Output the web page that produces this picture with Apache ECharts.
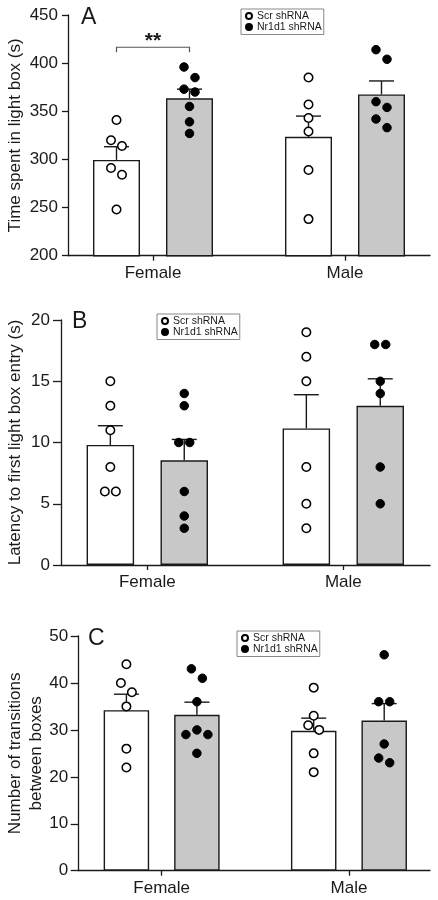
<!DOCTYPE html>
<html>
<head>
<meta charset="utf-8">
<script src="https://cdn.jsdelivr.net/npm/echarts@6/dist/echarts.min.js"></script>
<style>
html,body{margin:0;padding:0;background:#fff;}
#chart{width:438px;height:900px;}
</style>
</head>
<body>
<div id="chart"></div>
<script>
// ---------- DATA ----------
const categories = ['Female', 'Male'];
const groupNames = ['Scr shRNA', 'Nr1d1 shRNA'];

// Panel A: Time spent in light box (s)
const aYTicks = [200, 250, 300, 350, 400, 450];
const aScrMean = [299.5, 323.5];
const aScrSemTop = [313.2, 345.0];
const aNrMean = [363.5, 367.5];
const aNrSemTop = [373.0, 381.5];
const aScrFemale = [341, 320, 314, 291, 284, 248];
const aScrMale = [385, 357, 343, 329, 289, 238];
const aNrFemale = [396, 385, 373, 370, 355, 339, 327];
const aNrMale = [414, 404, 360, 354, 342, 333];
const aSigLevel = 416.5;
const aSigText = '**';

// Panel B: Latency to first light box entry (s)
const bYTicks = [0, 5, 10, 15, 20];
const bScrMean = [9.8, 11.15];
const bScrSemTop = [11.37, 13.9];
const bNrMean = [8.55, 13.0];
const bNrSemTop = [10.25, 15.2];
const bScrFemale = [15, 13, 11, 8, 6, 6];
const bScrMale = [19, 17, 15, 8, 5, 3];
const bNrFemale = [14, 13, 10, 10, 6, 4, 3];
const bNrMale = [18, 18, 15, 14, 8, 5];

// Panel C: Number of transitions between boxes
const cYTicks = [0, 10, 20, 30, 40, 50];
const cScrMean = [34.2, 29.8];
const cScrSemTop = [37.6, 32.5];
const cNrMean = [33.2, 32.0];
const cNrSemTop = [35.9, 35.6];
const cScrFemale = [44, 40, 38, 35, 26, 22];
const cScrMale = [39, 33, 31, 30, 25, 21];
const cNrFemale = [43, 41, 36, 30, 29, 29, 25];
const cNrMale = [46, 36, 36, 27, 24, 23];

// ---------- LAYOUT / STYLE ----------
const FONT = '"Liberation Sans", Arial, sans-serif';
const INK = '#1a1a1a';
const GREY = '#c8c8c8';

const panels = [
  {
    letter: 'A', yName: 'Time spent in light box (s)', ticks: aYTicks,
    scrMean: aScrMean, scrTop: aScrSemTop, nrMean: aNrMean, nrTop: aNrSemTop,
    scrPts: [aScrFemale, aScrMale], nrPts: [aNrFemale, aNrMale],
    axisLeft: 68, top: 15, height: 240.7, dataLeft: 57, dataWidth: 384,
    barW: 47, gap: 26, nameGap: 42, tickLen: 6, labelMargin: 10,
    letterPos: [81, 6], legendPos: [241, 9],
    sig: {level: aSigLevel, text: aSigText}
  },
  {
    letter: 'B', yName: 'Latency to first light box entry (s)', ticks: bYTicks,
    scrMean: bScrMean, scrTop: bScrSemTop, nrMean: bNrMean, nrTop: bNrSemTop,
    scrPts: [bScrFemale, bScrMale], nrPts: [bNrFemale, bNrMale],
    axisLeft: 61, top: 320, height: 245, dataLeft: 49.3, dataWidth: 392,
    barW: 47.5, gap: 26.4, nameGap: 35, tickLen: 8, labelMargin: 11,
    letterPos: [72, 310], legendPos: [157, 314]
  },
  {
    letter: 'C', yName: 'Number of transitions\nbetween boxes', ticks: cYTicks,
    scrMean: cScrMean, scrTop: cScrSemTop, nrMean: cNrMean, nrTop: cNrSemTop,
    scrPts: [cScrFemale, cScrMale], nrPts: [cNrFemale, cNrMale],
    axisLeft: 78.7, top: 636, height: 234.7, dataLeft: 68, dataWidth: 374.6,
    barW: 45.5, gap: 25, nameGap: 32, tickLen: 8, labelMargin: 10.5,
    letterPos: [88, 627], legendPos: [237, 631]
  }
];

// beeswarm-like horizontal spreading of close points (pixel offsets)
function spread(values, pxPerUnit) {
  const idx = values.map((v, i) => i).sort((a, b) => values[b] - values[a]);
  const off = new Array(values.length).fill(0);
  const thr = 11.2, d = 10, s = 5.5;
  let clusters = [], cur = [idx[0]];
  for (let k = 1; k < idx.length; k++) {
    const gapPx = (values[idx[k - 1]] - values[idx[k]]) * pxPerUnit;
    if (gapPx < thr) cur.push(idx[k]); else { clusters.push(cur); cur = [idx[k]]; }
  }
  clusters.push(cur);
  clusters.forEach(cl => {
    if (cl.length === 2) { off[cl[0]] = -s; off[cl[1]] = s; return; }
    if (cl.length === 1) return;
    const placed = [];
    cl.forEach(i => {
      const y = values[i] * pxPerUnit;
      const cands = [0, -s, s, -2 * s, 2 * s, -3 * s, 3 * s];
      for (const c of cands) {
        const ok = placed.every(p => Math.hypot(p.x - c, p.y - y) >= d);
        if (ok) { off[i] = c; placed.push({x: c, y: y}); break; }
      }
    });
  });
  return off;
}

const option = {
  animation: false,
  backgroundColor: '#fff',
  textStyle: {fontFamily: FONT, color: INK},
  title: [], legend: [], grid: [], xAxis: [], yAxis: [], series: []
};

panels.forEach((p, pi) => {
  const ymin = p.ticks[0], ymax = p.ticks[p.ticks.length - 1];
  const interval = p.ticks[1] - p.ticks[0];
  const pxPerUnit = p.height / (ymax - ymin);
  const half = (p.barW + p.gap) / 2;
  const gAxis = pi * 2, gData = pi * 2 + 1;

  option.grid.push({left: p.axisLeft, right: 8, top: p.top, height: p.height,
    containLabel: false, outerBoundsMode: 'none'});
  option.grid.push({left: p.dataLeft, width: p.dataWidth, top: p.top, height: p.height,
    containLabel: false, outerBoundsMode: 'none'});

  // visible axes grid
  option.xAxis.push({
    gridIndex: gAxis, type: 'value', min: 0, max: 1,
    axisLine: {show: true, lineStyle: {color: INK, width: 1.3}},
    axisTick: {show: false}, axisLabel: {show: false}, splitLine: {show: false}
  });
  option.yAxis.push({
    gridIndex: gAxis, type: 'value', min: ymin, max: ymax, interval: interval,
    name: p.yName, nameLocation: 'middle', nameGap: p.nameGap, nameMoveOverlap: false,
    nameTextStyle: {fontSize: 17, color: INK, fontFamily: FONT, lineHeight: 21, align: 'center'},
    axisLine: {show: true, lineStyle: {color: INK, width: 1.3}},
    axisTick: {show: true, length: p.tickLen, lineStyle: {color: INK, width: 1.3}},
    axisLabel: {fontSize: 17, color: INK, fontFamily: FONT, margin: p.labelMargin},
    splitLine: {show: false}
  });
  // data grid axes
  option.xAxis.push({
    gridIndex: gData, type: 'category', data: categories,
    axisLine: {show: false},
    axisTick: {show: true, alignWithLabel: true, length: 5, lineStyle: {color: INK, width: 1.3}},
    axisLabel: {fontSize: 17, color: INK, fontFamily: FONT, margin: 9},
    splitLine: {show: false}
  });
  option.yAxis.push({
    gridIndex: gData, type: 'value', min: ymin, max: ymax, interval: interval, show: false,
    splitLine: {show: false}
  });
  const xi = pi * 2 + 1, yi = pi * 2 + 1;

  // bars
  option.series.push({
    type: 'bar', name: groupNames[0] + ' mean', xAxisIndex: xi, yAxisIndex: yi,
    data: p.scrMean, barWidth: p.barW, barGap: (p.gap / p.barW * 100) + '%',
    itemStyle: {color: '#fff', borderColor: INK, borderWidth: 1.4}, z: 2, silent: true
  });
  option.series.push({
    type: 'bar', name: groupNames[1] + ' mean', xAxisIndex: xi, yAxisIndex: yi,
    data: p.nrMean, barWidth: p.barW,
    itemStyle: {color: GREY, borderColor: INK, borderWidth: 1.4}, z: 2, silent: true
  });

  // error bars (SEM, upward)
  function errSeries(means, tops, offset) {
    return {
      type: 'custom', xAxisIndex: xi, yAxisIndex: yi, z: 3, silent: true,
      data: means.map((m, i) => [i, m, tops[i]]),
      encode: {x: 0, y: [1, 2]},
      renderItem: function (params, api) {
        const p1 = api.coord([api.value(0), api.value(1)]);
        const p2 = api.coord([api.value(0), api.value(2)]);
        const x = p1[0] + offset, cap = 25;
        return {
          type: 'group', children: [
            {type: 'line', shape: {x1: x, y1: p1[1], x2: x, y2: p2[1]}, style: {stroke: INK, lineWidth: 1.4}},
            {type: 'line', shape: {x1: x - cap / 2, y1: p2[1], x2: x + cap / 2, y2: p2[1]}, style: {stroke: INK, lineWidth: 1.4}}
          ]
        };
      }
    };
  }
  option.series.push(errSeries(p.scrMean, p.scrTop, -half));
  option.series.push(errSeries(p.nrMean, p.nrTop, half));

  // individual points
  function ptsData(groups, base) {
    const out = [];
    groups.forEach((vals, ci) => {
      const off = spread(vals, pxPerUnit);
      vals.forEach((v, k) => out.push({value: [ci, v], symbolOffset: [base + off[k], 0]}));
    });
    return out;
  }
  option.series.push({
    type: 'scatter', name: groupNames[0], xAxisIndex: xi, yAxisIndex: yi, z: 4,
    symbol: 'circle', symbolSize: 8.5,
    itemStyle: {color: '#fff', borderColor: '#000', borderWidth: 1.5, opacity: 1},
    data: ptsData(p.scrPts, -half)
  });
  option.series.push({
    type: 'scatter', name: groupNames[1], xAxisIndex: xi, yAxisIndex: yi, z: 4,
    symbol: 'circle', symbolSize: 8.5,
    itemStyle: {color: '#000', borderColor: '#000', borderWidth: 1, opacity: 1},
    data: ptsData(p.nrPts, half)
  });

  // significance bracket
  if (p.sig) {
    option.series.push({
      type: 'custom', xAxisIndex: xi, yAxisIndex: yi, z: 5, silent: true,
      data: [[0, p.sig.level]],
      encode: {x: 0, y: 1},
      renderItem: function (params, api) {
        const c = api.coord([api.value(0), api.value(1)]);
        const x1 = c[0] - half, x2 = c[0] + half, y = c[1];
        return {
          type: 'group', children: [
            {type: 'polyline', shape: {points: [[x1, y + 5], [x1, y], [x2, y], [x2, y + 5]]},
             style: {stroke: '#555', lineWidth: 1.2, fill: null}},
            {type: 'text', x: c[0], y: y + 4,
             style: {text: p.sig.text, font: 'bold 21px ' + FONT, fill: INK, align: 'center', verticalAlign: 'bottom'}}
          ]
        };
      }
    });
  }

  option.title.push({
    text: p.letter, left: p.letterPos[0], top: p.letterPos[1], padding: 0,
    textStyle: {fontSize: 23, fontWeight: 'normal', color: INK, fontFamily: FONT}
  });
  option.legend.push({
    data: [{name: groupNames[0], icon: 'circle'}, {name: groupNames[1], icon: 'circle'}],
    orient: 'vertical', left: p.legendPos[0], top: p.legendPos[1],
    itemWidth: 6, itemHeight: 6, itemGap: 0, itemTextGap: 5,
    padding: [1.5, 2, 2, 4], borderColor: '#888', borderWidth: 1,
    selectedMode: false,
    textStyle: {fontSize: 10.5, lineHeight: 9, color: INK, fontFamily: FONT}
  });
});

const chart = echarts.init(document.getElementById('chart'), null, {renderer: 'canvas'});
chart.setOption(option);
</script>
</body>
</html>
